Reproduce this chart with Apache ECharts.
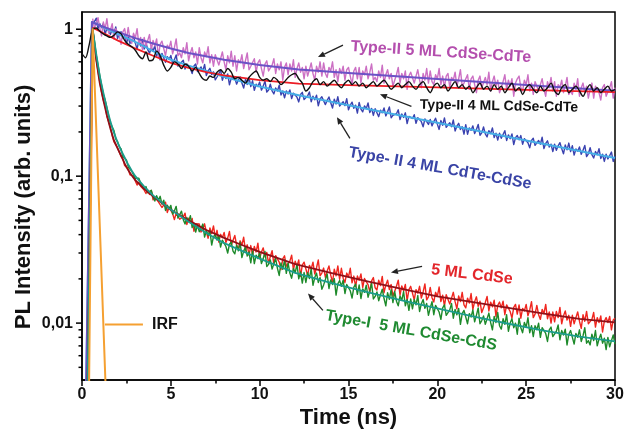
<!DOCTYPE html>
<html>
<head>
<meta charset="utf-8">
<script src="https://cdn.jsdelivr.net/npm/echarts@6/dist/echarts.min.js"></script>
<style>
  html, body { margin: 0; padding: 0; background: #ffffff; }
  #main { width: 626px; height: 431px; }
</style>
</head>
<body>
<div id="main"></div>
<script>
// ---- Time grid of the measured decays (ns), 0.1 ns bins ----
const timeNs = [
  0.6,0.7,0.8,0.9,1,1.1,1.2,1.3,1.4,1.5,
  1.6,1.7,1.8,1.9,2,2.1,2.2,2.3,2.4,2.5,
  2.6,2.7,2.8,2.9,3,3.1,3.2,3.3,3.4,3.5,
  3.6,3.7,3.8,3.9,4,4.1,4.2,4.3,4.4,4.5,
  4.6,4.7,4.8,4.9,5,5.1,5.2,5.3,5.4,5.5,
  5.6,5.7,5.8,5.9,6,6.1,6.2,6.3,6.4,6.5,
  6.6,6.7,6.8,6.9,7,7.1,7.2,7.3,7.4,7.5,
  7.6,7.7,7.8,7.9,8,8.1,8.2,8.3,8.4,8.5,
  8.6,8.7,8.8,8.9,9,9.1,9.2,9.3,9.4,9.5,
  9.6,9.7,9.8,9.9,10,10.1,10.2,10.3,10.4,10.5,
  10.6,10.7,10.8,10.9,11,11.1,11.2,11.3,11.4,11.5,
  11.6,11.7,11.8,11.9,12,12.1,12.2,12.3,12.4,12.5,
  12.6,12.7,12.8,12.9,13,13.1,13.2,13.3,13.4,13.5,
  13.6,13.7,13.8,13.9,14,14.1,14.2,14.3,14.4,14.5,
  14.6,14.7,14.8,14.9,15,15.1,15.2,15.3,15.4,15.5,
  15.6,15.7,15.8,15.9,16,16.1,16.2,16.3,16.4,16.5,
  16.6,16.7,16.8,16.9,17,17.1,17.2,17.3,17.4,17.5,
  17.6,17.7,17.8,17.9,18,18.1,18.2,18.3,18.4,18.5,
  18.6,18.7,18.8,18.9,19,19.1,19.2,19.3,19.4,19.5,
  19.6,19.7,19.8,19.9,20,20.1,20.2,20.3,20.4,20.5,
  20.6,20.7,20.8,20.9,21,21.1,21.2,21.3,21.4,21.5,
  21.6,21.7,21.8,21.9,22,22.1,22.2,22.3,22.4,22.5,
  22.6,22.7,22.8,22.9,23,23.1,23.2,23.3,23.4,23.5,
  23.6,23.7,23.8,23.9,24,24.1,24.2,24.3,24.4,24.5,
  24.6,24.7,24.8,24.9,25,25.1,25.2,25.3,25.4,25.5,
  25.6,25.7,25.8,25.9,26,26.1,26.2,26.3,26.4,26.5,
  26.6,26.7,26.8,26.9,27,27.1,27.2,27.3,27.4,27.5,
  27.6,27.7,27.8,27.9,28,28.1,28.2,28.3,28.4,28.5,
  28.6,28.7,28.8,28.9,29,29.1,29.2,29.3,29.4,29.5,
  29.6,29.7,29.8,29.9,30
];

// Type-II 5 ML CdSe-CdTe, measured PL
const typeII5CdSeCdTe = [
  1.18,1.01,1.10,1.20,1.02,0.90,1.12,1.00,1.18,0.94,
  0.99,1.09,0.86,1.01,1.04,0.90,0.79,0.96,1.01,0.85,
  1.03,0.86,0.80,0.94,0.87,1.01,0.79,0.88,0.73,0.88,
  0.77,0.84,0.92,0.72,0.84,0.77,0.86,0.65,0.79,0.83,
  0.83,0.66,0.78,0.74,0.83,0.68,0.75,0.86,0.66,0.69,
  0.64,0.75,0.68,0.81,0.61,0.69,0.75,0.64,0.70,0.58,
  0.75,0.64,0.59,0.70,0.65,0.76,0.59,0.67,0.56,0.67,
  0.66,0.57,0.63,0.70,0.60,0.53,0.66,0.59,0.71,0.56,
  0.66,0.52,0.62,0.59,0.67,0.54,0.61,0.69,0.53,0.56,
  0.57,0.63,0.51,0.59,0.62,0.54,0.48,0.58,0.61,0.52,
  0.52,0.57,0.63,0.50,0.58,0.53,0.60,0.45,0.55,0.59,
  0.49,0.58,0.52,0.62,0.47,0.54,0.59,0.51,0.55,0.46,
  0.56,0.48,0.53,0.59,0.50,0.45,0.56,0.51,0.60,0.48,
  0.59,0.50,0.47,0.55,0.52,0.60,0.47,0.53,0.44,0.54,
  0.50,0.56,0.45,0.53,0.55,0.48,0.42,0.52,0.55,0.46,
  0.55,0.43,0.52,0.49,0.56,0.46,0.51,0.58,0.45,0.47,
  0.44,0.52,0.47,0.57,0.43,0.49,0.53,0.46,0.50,0.41,
  0.45,0.49,0.55,0.43,0.50,0.46,0.52,0.39,0.48,0.51,
  0.50,0.43,0.48,0.53,0.45,0.40,0.50,0.45,0.54,0.43,
  0.52,0.44,0.42,0.49,0.46,0.54,0.42,0.48,0.40,0.48,
  0.50,0.40,0.47,0.45,0.51,0.41,0.46,0.53,0.41,0.43,
  0.44,0.49,0.39,0.46,0.48,0.42,0.37,0.45,0.48,0.40,
  0.39,0.47,0.42,0.51,0.38,0.44,0.48,0.41,0.45,0.37,
  0.40,0.44,0.49,0.39,0.45,0.41,0.46,0.35,0.43,0.46,
  0.48,0.40,0.38,0.45,0.42,0.49,0.38,0.43,0.36,0.44,
  0.43,0.38,0.42,0.46,0.39,0.35,0.44,0.40,0.47,0.38,
  0.44,0.35,0.42,0.40,0.45,0.37,0.41,0.47,0.36,0.38,
  0.36,0.43,0.39,0.46,0.35,0.40,0.43,0.37,0.41,0.34,
  0.39,0.43,0.34,0.41,0.42,0.37,0.33,0.40,0.42,0.35,
  0.36,0.40,0.44,0.34,0.40
];

// Type-II 4 ML CdTe-CdSe, measured PL
const typeII4CdTeCdSe = [
  1.075,1.127,1.188,1.011,1.092,1.024,1.092,0.918,1.020,1.045,
  0.921,1.006,0.936,1.036,0.865,0.927,0.961,0.869,0.903,0.794,
  0.888,0.800,0.848,0.888,0.804,0.735,0.837,0.770,0.853,0.733,
  0.813,0.727,0.687,0.749,0.710,0.771,0.657,0.697,0.620,0.685,
  0.695,0.595,0.651,0.623,0.663,0.583,0.620,0.668,0.561,0.579,
  0.580,0.615,0.535,0.581,0.593,0.543,0.500,0.562,0.580,0.515,
  0.506,0.554,0.518,0.576,0.484,0.520,0.542,0.491,0.512,0.452,
  0.473,0.498,0.528,0.450,0.489,0.462,0.496,0.418,0.466,0.480,
  0.468,0.423,0.451,0.474,0.431,0.398,0.456,0.421,0.470,0.407,
  0.446,0.384,0.422,0.407,0.437,0.385,0.410,0.444,0.373,0.386,
  0.422,0.380,0.363,0.398,0.380,0.416,0.357,0.380,0.341,0.380,
  0.363,0.386,0.337,0.367,0.376,0.345,0.320,0.360,0.372,0.332,
  0.333,0.352,0.374,0.321,0.350,0.331,0.356,0.301,0.335,0.347,
  0.339,0.307,0.328,0.346,0.316,0.291,0.334,0.310,0.347,0.300,
  0.292,0.321,0.302,0.337,0.283,0.305,0.319,0.290,0.304,0.269,
  0.318,0.286,0.274,0.301,0.288,0.315,0.271,0.289,0.259,0.288,
  0.295,0.254,0.281,0.270,0.291,0.257,0.274,0.296,0.250,0.259,
  0.252,0.266,0.283,0.243,0.265,0.251,0.270,0.228,0.255,0.263,
  0.247,0.262,0.229,0.250,0.256,0.235,0.217,0.245,0.252,0.225,
  0.243,0.220,0.235,0.248,0.226,0.208,0.239,0.222,0.249,0.215,
  0.210,0.231,0.217,0.241,0.203,0.219,0.229,0.208,0.217,0.193,
  0.224,0.193,0.213,0.205,0.220,0.195,0.208,0.225,0.190,0.197,
  0.216,0.194,0.185,0.204,0.195,0.213,0.183,0.196,0.176,0.196,
  0.181,0.192,0.204,0.175,0.191,0.180,0.194,0.164,0.183,0.189,
  0.177,0.189,0.165,0.180,0.184,0.169,0.156,0.175,0.181,0.162,
  0.159,0.175,0.165,0.184,0.154,0.167,0.174,0.158,0.165,0.147,
  0.165,0.150,0.161,0.169,0.154,0.142,0.163,0.151,0.168,0.147,
  0.161,0.139,0.153,0.148,0.158,0.141,0.150,0.162,0.136,0.142,
  0.156,0.140,0.133,0.147,0.140,0.154,0.132,0.141,0.126,0.141,
  0.131,0.138,0.146,0.126,0.137
];

// 5 ML CdSe core, measured PL
const cdSe5 = [
  1.01,0.774,0.624,0.519,0.438,0.375,0.331,0.303,0.256,0.234,
  0.216,0.188,0.171,0.167,0.155,0.152,0.136,0.131,0.118,0.117,
  0.112,0.102,0.101,0.1005,0.0929,0.087,0.0911,0.0853,0.088,0.0804,
  0.0762,0.0803,0.0751,0.0799,0.0691,0.0719,0.0734,0.0669,0.0682,0.0612,
  0.0635,0.0665,0.0566,0.0614,0.0618,0.0557,0.0506,0.0559,0.057,0.0509,
  0.0506,0.0529,0.056,0.0469,0.0518,0.0481,0.0516,0.0422,0.0474,0.0488,
  0.0473,0.0417,0.0444,0.0474,0.0417,0.0378,0.0445,0.0407,0.0459,0.0385,
  0.0428,0.0356,0.0402,0.0381,0.0414,0.0353,0.0379,0.042,0.0339,0.0349,
  0.0395,0.0341,0.0317,0.0363,0.034,0.0384,0.0311,0.0341,0.029,0.0337,
  0.0291,0.0333,0.0305,0.035,0.0275,0.0305,0.0325,0.0283,0.0303,0.0255,
  0.0284,0.0311,0.0251,0.0288,0.0295,0.026,0.0231,0.0274,0.0287,0.0244,
  0.0245,0.0264,0.029,0.023,0.0264,0.0244,0.0269,0.0208,0.0248,0.026,
  0.0261,0.0211,0.0247,0.0234,0.026,0.0216,0.0238,0.0269,0.021,0.0219,
  0.0237,0.0205,0.0226,0.0245,0.0212,0.0189,0.0233,0.021,0.0245,0.0199,
  0.0236,0.0202,0.0189,0.0219,0.0206,0.0236,0.0188,0.0209,0.0177,0.0209,
  0.0196,0.0216,0.0175,0.0201,0.0207,0.0183,0.0163,0.0194,0.0204,0.0174,
  0.0168,0.0196,0.018,0.0208,0.0161,0.0182,0.0196,0.0169,0.0183,0.0153,
  0.0165,0.0178,0.0196,0.0155,0.0179,0.0166,0.0183,0.0142,0.0169,0.0178,
  0.0179,0.0144,0.0169,0.016,0.0178,0.0148,0.0163,0.0185,0.0144,0.0151,
  0.0175,0.0149,0.0139,0.0162,0.0152,0.0176,0.014,0.0155,0.0131,0.0156,
  0.0155,0.0135,0.0148,0.0162,0.014,0.0125,0.0153,0.014,0.0162,0.0133,
  0.0127,0.0148,0.0137,0.0159,0.0124,0.014,0.0151,0.013,0.0141,0.0118,
  0.0127,0.0138,0.0152,0.0121,0.0139,0.0129,0.0143,0.0111,0.0132,0.0139,
  0.0127,0.0141,0.0114,0.0133,0.0136,0.012,0.0108,0.0128,0.0134,0.0115,
  0.0133,0.0108,0.0126,0.0121,0.0134,0.0112,0.0123,0.014,0.0109,0.0115,
  0.0132,0.0114,0.0106,0.0124,0.0116,0.0134,0.0107,0.0119,0.0100,0.0119,
  0.0102,0.012,0.0109,0.0128,0.0099,0.0112,0.0121,0.0105,0.0113,0.0095,
  0.0113,0.0099,0.0109,0.0119,0.0103,0.0092,0.0114,0.0103,0.012,0.0099,
  0.0099,0.0106,0.0118,0.0094,0.0109,0.0101,0.0112,0.0087,0.0103,0.0109,
  0.0101,0.0111,0.009,0.0105,0.0108
];

// Type-I 5 ML CdSe-CdS, measured PL
const typeI5CdSeCdS = [
  0.998,0.833,0.668,0.573,0.486,0.417,0.361,0.331,0.294,0.257,
  0.231,0.216,0.204,0.179,0.172,0.159,0.153,0.136,0.134,0.129,
  0.116,0.116,0.108,0.109,0.0964,0.0974,0.097,0.0895,0.0891,0.0817,
  0.085,0.0771,0.0785,0.0801,0.0727,0.0677,0.0736,0.0687,0.0729,0.0645,
  0.0686,0.0584,0.0635,0.06,0.0632,0.0552,0.0579,0.0623,0.0519,0.0527,
  0.0578,0.0506,0.0473,0.0523,0.049,0.0538,0.0447,0.0478,0.0416,0.0465,
  0.0419,0.0442,0.0472,0.0385,0.0426,0.0396,0.0425,0.034,0.0388,0.0401,
  0.0368,0.0396,0.0329,0.0367,0.0371,0.0332,0.03,0.0344,0.0356,0.0309,
  0.0296,0.0339,0.031,0.0355,0.0279,0.0309,0.0329,0.0286,0.0305,0.0257,
  0.031,0.0254,0.029,0.0275,0.0302,0.0254,0.0275,0.0307,0.0243,0.0251,
  0.0269,0.0233,0.0254,0.0275,0.0236,0.0211,0.0257,0.0232,0.0269,0.0218,
  0.0256,0.0219,0.0202,0.0235,0.022,0.0252,0.02,0.0223,0.0187,0.0221,
  0.0189,0.022,0.0201,0.0235,0.0181,0.0204,0.0219,0.0189,0.0204,0.017,
  0.0182,0.0198,0.0216,0.0172,0.0197,0.0183,0.0201,0.0155,0.0185,0.0195,
  0.0178,0.0196,0.0159,0.0183,0.0188,0.0166,0.0148,0.0176,0.0184,0.0157,
  0.0182,0.0147,0.0171,0.0162,0.0181,0.015,0.0165,0.0187,0.0146,0.0152,
  0.0163,0.0142,0.0156,0.017,0.0147,0.0131,0.0161,0.0145,0.0169,0.0138,
  0.0164,0.0141,0.0131,0.0153,0.0143,0.0164,0.0131,0.0145,0.0122,0.0146,
  0.0125,0.0145,0.0133,0.0154,0.012,0.0135,0.0145,0.0126,0.0136,0.0113,
  0.0127,0.014,0.0114,0.0132,0.0135,0.0119,0.0106,0.0127,0.0133,0.0113,
  0.0114,0.0123,0.0136,0.0108,0.0124,0.0114,0.0126,0.0098,0.0116,0.0122,
  0.0122,0.0099,0.0116,0.011,0.0123,0.0102,0.0113,0.0127,0.0099,0.0104,
  0.0112,0.0098,0.0107,0.0117,0.0101,0.009,0.0111,0.0101,0.0118,0.0096,
  0.0091,0.0107,0.0098,0.0114,0.0088,0.01,0.0107,0.0093,0.01,0.0084,
  0.0108,0.0093,0.0086,0.0101,0.0094,0.0109,0.0086,0.0096,0.0081,0.0096,
  0.009,0.01,0.008,0.0093,0.0095,0.0085,0.0075,0.009,0.0094,0.0081,
  0.0082,0.0088,0.0097,0.0077,0.0089,0.0083,0.0091,0.0071,0.0084,0.0089,
  0.0089,0.0072,0.0085,0.008,0.009,0.0075,0.0082,0.0093,0.0073,0.0076,
  0.0071,0.0084,0.0076,0.0089,0.007,0.0078,0.0084,0.0073,0.0079,0.0066,
  0.008,0.0069,0.0076,0.0083,0.0072
];

// Type-II 4 ML CdSe-CdTe, measured PL on 0.2 ns bins (starts before the pulse)
const typeII4CdSeCdTeTime = [
  0,0.2,0.4,
  0.6,0.8,1,1.2,1.4,1.6,1.8,2,2.2,2.4,
  2.6,2.8,3,3.2,3.4,3.6,3.8,4,4.2,4.4,
  4.6,4.8,5,5.2,5.4,5.6,5.8,6,6.2,6.4,
  6.6,6.8,7,7.2,7.4,7.6,7.8,8,8.2,8.4,
  8.6,8.8,9,9.2,9.4,9.6,9.8,10,10.2,10.4,
  10.6,10.8,11,11.2,11.4,11.6,11.8,12,12.2,12.4,
  12.6,12.8,13,13.2,13.4,13.6,13.8,14,14.2,14.4,
  14.6,14.8,15,15.2,15.4,15.6,15.8,16,16.2,16.4,
  16.6,16.8,17,17.2,17.4,17.6,17.8,18,18.2,18.4,
  18.6,18.8,19,19.2,19.4,19.6,19.8,20,20.2,20.4,
  20.6,20.8,21,21.2,21.4,21.6,21.8,22,22.2,22.4,
  22.6,22.8,23,23.2,23.4,23.6,23.8,24,24.2,24.4,
  24.6,24.8,25,25.2,25.4,25.6,25.8,26,26.2,26.4,
  26.6,26.8,27,27.2,27.4,27.6,27.8,28,28.2,28.4,
  28.6,28.8,29,29.2,29.4,29.6,29.8,30
];
const typeII4CdSeCdTe = [
  0.68,0.64,0.78,
  1.00,1.02,0.97,0.93,0.90,0.88,0.91,0.96,0.93,0.84,
  0.79,0.76,0.72,0.66,0.63,0.70,0.61,0.62,0.71,0.66,
  0.57,0.52,0.55,0.60,0.58,0.54,0.58,0.56,0.52,0.55,
  0.50,0.46,0.45,0.48,0.47,0.51,0.53,0.50,0.54,0.51,
  0.46,0.47,0.45,0.43,0.47,0.50,0.52,0.47,0.45,0.46,
  0.44,0.47,0.45,0.42,0.44,0.47,0.49,0.50,0.46,0.43,
  0.38,0.40,0.44,0.46,0.42,0.44,0.41,0.43,0.45,0.42,
  0.40,0.43,0.45,0.42,0.44,0.41,0.43,0.40,0.42,0.44,
  0.41,0.43,0.45,0.42,0.39,0.41,0.43,0.40,0.42,0.44,
  0.41,0.39,0.42,0.44,0.40,0.37,0.41,0.43,0.40,0.42,
  0.38,0.41,0.44,0.40,0.42,0.39,0.41,0.37,0.40,0.43,
  0.39,0.41,0.38,0.42,0.39,0.41,0.37,0.40,0.43,0.38,
  0.40,0.36,0.40,0.42,0.39,0.37,0.41,0.38,0.40,0.43,
  0.38,0.36,0.40,0.42,0.37,0.39,0.41,0.38,0.35,0.39,
  0.42,0.38,0.40,0.37,0.39,0.41,0.38,0.39
];

// ---- Fitted decay curves ----
const fitTypeII5CdSeCdTeTime = [0.22,0.56,1,2,3,4,5,6,8,10,12.2,15,20,25,30];
const fitTypeII5CdSeCdTe     = [0.003,1.12,1.06,0.96,0.87,0.80,0.74,0.69,0.62,0.57,0.533,0.504,0.459,0.417,0.381];

const fitTypeII4CdSeCdTeTime = [0.3,0.62,1,2,3,4,5,6,7,8,10,12.2,15,20,25,30];
const fitTypeII4CdSeCdTe     = [0.003,1.02,0.97,0.84,0.74,0.66,0.59,0.545,0.51,0.485,0.45,0.427,0.417,0.402,0.387,0.373];

const fitTypeII4CdTeCdSeTime = [0.22,0.56,1,2,3,4,5,6,7,8,10,12.2,15,20,25,30];
const fitTypeII4CdTeCdSe     = [0.003,1.12,1.06,0.93,0.82,0.71,0.62,0.565,0.52,0.475,0.408,0.355,0.304,0.231,0.175,0.133];

const fitCdSe5Time = [0.3,0.6,0.8,1,1.2,1.4,1.6,1.8,2,2.2,2.4,2.6,2.8,3,3.5,4,5,6,7,8,9,10,12,14,16,18,20,22,24,26,28,30];
const fitCdSe5     = [0.003,1.0,0.62,0.43,0.33,0.26,0.21,0.175,0.155,0.138,0.122,0.110,0.101,0.094,0.082,0.073,0.059,0.050,0.043,0.038,0.034,0.0305,0.0252,0.022,0.0193,0.0171,0.0152,0.0139,0.0127,0.0116,0.0107,0.0101];

const fitTypeI5CdSeCdSTime = [0.3,0.6,0.8,1,1.2,1.4,1.6,1.8,2,2.2,2.4,2.6,2.8,3,3.5,4,5,6,7,8,9,10,12,14,16,18,20,22,24,26,28,30];
const fitTypeI5CdSeCdS     = [0.003,1.0,0.68,0.48,0.37,0.29,0.235,0.197,0.17,0.15,0.134,0.12,0.109,0.1,0.085,0.074,0.059,0.049,0.041,0.035,0.031,0.0275,0.022,0.0188,0.0163,0.0143,0.0126,0.0111,0.0099,0.0089,0.0081,0.0075];

// Instrument response function
const irfTime  = [0.35, 0.6, 1.5];
const irfValue = [0.001, 1.0, 0.001];

// ---- Axis ticks ----
const yMajorTicks = [0.01, 0.1, 1];
const yTickLabels = ['0,01', '0,1', '1'];
const yMinorTicks = [0.005,0.006,0.007,0.008,0.009,0.02,0.03,0.04,0.05,0.06,0.07,0.08,0.09,0.2,0.3,0.4,0.5,0.6,0.7,0.8,0.9];

// ---- Annotation texts ----
const labelTexts = ['Type-II 5 ML CdSe-CdTe', 'Type-II 4 ML CdSe-CdTe', 'Type- II 4 ML CdTe-CdSe', '5 ML CdSe', 'Type-I  5 ML CdSe-CdS'];
const irfText = 'IRF';

// ---------------------------------------------------------------
const FONT = "'Liberation Sans', Arial, Helvetica, sans-serif";

function pairs(t, v) {
  const n = Math.min(t.length, v.length);
  const out = [];
  for (let i = 0; i < n; i++) out.push([t[i], v[i]]);
  return out;
}

function lineSeries(name, t, v, color, width, extra) {
  return Object.assign({
    name, type: 'line', data: pairs(t, v),
    showSymbol: false, symbol: 'none', clip: true, silent: true,
    lineStyle: { color, width, join: 'round' },
    animation: false
  }, extra || {});
}

function tickSeries(values, len) {
  return {
    type: 'custom', silent: true, clip: false, animation: false, z: 5,
    encode: { x: 0, y: 1 },
    data: values.map(v => [0, v]),
    renderItem: (params, api) => {
      const p = api.coord([0, api.value(1)]);
      return {
        type: 'line',
        shape: { x1: p[0] - len, y1: p[1], x2: p[0], y2: p[1] },
        style: { stroke: '#000', lineWidth: 1.5 }
      };
    }
  };
}

const chart = echarts.init(document.getElementById('main'), null, { renderer: 'canvas' });

chart.setOption({
  animation: false,
  backgroundColor: '#ffffff',
  grid: {
    left: 82, right: 11, top: 12, bottom: 51, outerBoundsMode: 'none',
    show: true, borderColor: '#000', borderWidth: 1.5, backgroundColor: 'transparent'
  },
  xAxis: {
    type: 'value', min: 0, max: 30, interval: 5,
    axisLine: { onZero: false, lineStyle: { color: '#000', width: 1.5 } },
    axisTick: { length: 6, lineStyle: { color: '#000', width: 1.5 } },
    minorTick: { show: true, splitNumber: 2, length: 3.5, lineStyle: { color: '#000', width: 1.5 } },
    splitLine: { show: false },
    axisLabel: { color: '#111', fontFamily: FONT, fontWeight: 'bold', fontSize: 16, margin: 7 },
    name: 'Time (ns)', nameLocation: 'middle', nameGap: 27, nameMoveOverlap: false,
    nameTextStyle: { color: '#111', fontFamily: FONT, fontWeight: 'bold', fontSize: 22 }
  },
  yAxis: {
    type: 'log', logBase: 10, min: 0.0041, max: 1.31,
    axisLine: { onZero: false, lineStyle: { color: '#000', width: 1.5 } },
    axisTick: { show: false },
    splitLine: { show: false },
    axisLabel: {
      color: '#111', fontFamily: FONT, fontWeight: 'bold', fontSize: 16, margin: 9,
      showMinLabel: false, showMaxLabel: false,
      formatter: (v) => {
        for (let i = 0; i < yMajorTicks.length; i++) {
          if (Math.abs(Math.log10(v) - Math.log10(yMajorTicks[i])) < 1e-4) return yTickLabels[i];
        }
        return '';
      }
    },
    name: 'PL Intensity (arb. units)', nameLocation: 'middle', nameGap: 47, nameRotate: 90, nameMoveOverlap: false,
    nameTextStyle: { color: '#111', fontFamily: FONT, fontWeight: 'bold', fontSize: 22, padding: [0, 22, 0, 0] }
  },
  series: [
    lineSeries('typeII4CdTeCdSe', timeNs, typeII4CdTeCdSe, '#3a42b0', 1.4),
    lineSeries('typeII5CdSeCdTe', timeNs, typeII5CdSeCdTe, '#cc70c4', 1.4),
    lineSeries('fitTypeII4CdTeCdSe', fitTypeII4CdTeCdSeTime, fitTypeII4CdTeCdSe, '#45aee6', 2),
    lineSeries('fitTypeII5CdSeCdTe', fitTypeII5CdSeCdTeTime, fitTypeII5CdSeCdTe, '#6b52c6', 2),
    lineSeries('fitTypeII4CdSeCdTe', fitTypeII4CdSeCdTeTime, fitTypeII4CdSeCdTe, '#ec1c24', 1.8),
    lineSeries('typeII4CdSeCdTe', typeII4CdSeCdTeTime, typeII4CdSeCdTe, '#111111', 1.4, { smooth: 0.3 }),
    lineSeries('cdSe5', timeNs, cdSe5, '#f0261f', 1.4),
    lineSeries('typeI5CdSeCdS', timeNs, typeI5CdSeCdS, '#1d8a2a', 1.4),
    lineSeries('fitCdSe5', fitCdSe5Time, fitCdSe5, '#8e1018', 1.8),
    lineSeries('fitTypeI5CdSeCdS', fitTypeI5CdSeCdSTime, fitTypeI5CdSeCdS, '#1b9c8c', 1.8),
    lineSeries('irf', irfTime, irfValue, '#f5a031', 2),
    tickSeries(yMajorTicks, 6),
    tickSeries(yMinorTicks, 3.5)
  ]
});

// ---- Annotations placed in data coordinates ----
const labelLayout = [
  { at: [20.2, 0.698],   angle: -3.5, size: 16, color: '#b44fae', tail: [14.69, 0.78],   head: [13.28, 0.646] },
  { at: [23.47, 0.299],  angle: -1,   size: 14, color: '#111111', tail: [18.54, 0.299],  head: [16.77, 0.361] },
  { at: [20.15, 0.113],  angle: -10,  size: 16, color: '#3a44a6', tail: [15.08, 0.181],  head: [14.35, 0.252] },
  { at: [21.95, 0.0214], angle: -7,   size: 16, color: '#e3262b', tail: [19.14, 0.0243], head: [17.39, 0.0221] },
  { at: [18.52, 0.00889],angle: -10,  size: 16, color: '#1f8a31', tail: [13.56, 0.0122], head: [12.72, 0.0159] }
];
const irfLayout = { from: [1.29, 0.0098], to: [3.43, 0.0098], text: [3.94, 0.0098] };

function px(p) { return chart.convertToPixel({ gridIndex: 0 }, p); }

const graphics = [];
labelLayout.forEach((L, i) => {
  const c = px(L.at);
  graphics.push({
    type: 'text', x: c[0], y: c[1], rotation: L.angle * Math.PI / 180, z: 100,
    style: { text: labelTexts[i], fill: L.color, font: 'bold ' + L.size + 'px ' + FONT, align: 'center', verticalAlign: 'middle' }
  });
  const t = px(L.tail), h = px(L.head);
  const dx = h[0] - t[0], dy = h[1] - t[1], d = Math.hypot(dx, dy);
  const ux = dx / d, uy = dy / d;
  const bx = h[0] - ux * 7, by = h[1] - uy * 7;
  graphics.push({
    type: 'line', z: 100,
    shape: { x1: t[0], y1: t[1], x2: bx, y2: by },
    style: { stroke: '#222', lineWidth: 1.3 }
  });
  graphics.push({
    type: 'polygon', z: 100,
    shape: { points: [[h[0], h[1]], [bx - uy * 3, by + ux * 3], [bx + uy * 3, by - ux * 3]] },
    style: { fill: '#222' }
  });
});
{
  const a = px(irfLayout.from), b = px(irfLayout.to), c = px(irfLayout.text);
  graphics.push({ type: 'line', z: 100, shape: { x1: a[0], y1: a[1], x2: b[0], y2: b[1] }, style: { stroke: '#f5a031', lineWidth: 2 } });
  graphics.push({ type: 'text', x: c[0], y: c[1], z: 100, style: { text: irfText, fill: '#111', font: 'bold 16px ' + FONT, align: 'left', verticalAlign: 'middle' } });
}
chart.setOption({ graphic: graphics });
</script>
</body>
</html>
